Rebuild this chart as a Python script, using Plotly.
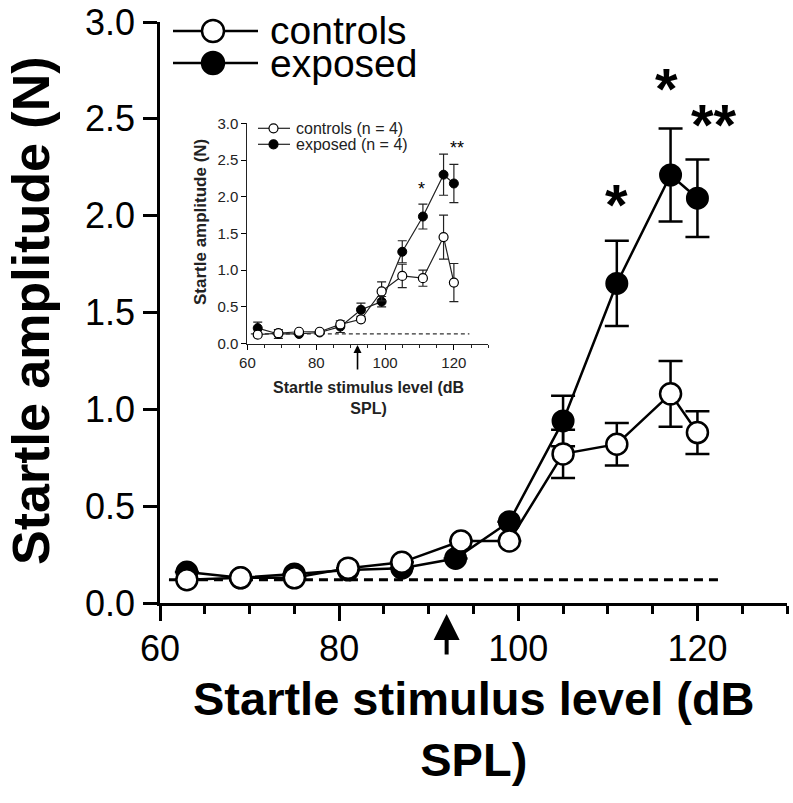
import plotly.graph_objects as go

# ---------------- data ----------------
levels = [63, 69, 75, 81, 87, 93, 99, 105, 111, 117, 120]
ctrl_levels_main = [63, 69, 75, 81, 87, 93.6, 99, 105, 111, 117, 120]

ctrl_main = [0.12, 0.13, 0.13, 0.18, 0.21, 0.32, 0.32, 0.77, 0.82, 1.08, 0.88]
ctrl_main_se = [None, None, None, None, None, None, None, 0.125, 0.11, 0.17, 0.11]
exp_main = [0.16, 0.13, 0.15, 0.17, 0.18, 0.23, 0.42, 0.94, 1.65, 2.21, 2.09]
exp_main_se = [None, None, None, None, None, None, None, 0.13, 0.22, 0.24, 0.20]

ctrl_inset = [0.12, 0.14, 0.16, 0.16, 0.26, 0.33, 0.71, 0.92, 0.89, 1.45, 0.83]
ctrl_inset_se = [None, None, None, None, None, None, 0.13, 0.16, 0.11, 0.30, 0.26]
exp_inset = [0.21, 0.13, 0.13, 0.15, 0.23, 0.46, 0.57, 1.25, 1.73, 2.30, 2.18]
exp_inset_se = [0.08, 0.06, None, None, 0.08, 0.09, 0.07, 0.15, 0.17, 0.28, 0.26]

baseline_main = 0.12
baseline_inset = 0.13
baseline_span_main = [61, 122.5]
baseline_span_inset = [61, 124.5]
arrow_level = 92

sig_main = [(111, 2.10, "*"), (116.6, 2.70, "*"), (121.8, 2.51, "**")]
sig_inset = [(110.7, 2.16, "*"), (120.8, 2.72, "**")]

x_ticks = [60, 80, 100, 120]
y_ticks = [0.0, 0.5, 1.0, 1.5, 2.0, 2.5, 3.0]

FONT = "Liberation Sans, Arial, Helvetica, sans-serif"

fig = go.Figure()

# ---------------- main panel ----------------
fig.add_trace(go.Scatter(
    x=baseline_span_main, y=[baseline_main] * 2, mode="lines",
    line=dict(color="black", width=3, dash="9px,6px"),
    xaxis="x", yaxis="y", showlegend=False, hoverinfo="skip"))

fig.add_trace(go.Scatter(
    x=levels, y=exp_main, mode="lines+markers", name="exposed",
    line=dict(color="black", width=2.5),
    marker=dict(symbol="circle", size=21, color="black",
                line=dict(color="black", width=2)),
    error_y=dict(type="data", array=exp_main_se, visible=True,
                 color="black", thickness=2.5, width=12),
    xaxis="x", yaxis="y", showlegend=False))

fig.add_trace(go.Scatter(
    x=ctrl_levels_main, y=ctrl_main, mode="lines+markers", name="controls",
    line=dict(color="black", width=2.5),
    marker=dict(symbol="circle", size=21, color="white",
                line=dict(color="black", width=2.5)),
    error_y=dict(type="data", array=ctrl_main_se, visible=True,
                 color="black", thickness=2.5, width=12),
    xaxis="x", yaxis="y", showlegend=False))

# ---------------- inset panel ----------------
fig.add_trace(go.Scatter(
    x=baseline_span_inset, y=[baseline_inset] * 2, mode="lines",
    line=dict(color="#333333", width=1.2, dash="4px,3px"),
    xaxis="x2", yaxis="y2", showlegend=False, hoverinfo="skip"))

fig.add_trace(go.Scatter(
    x=levels, y=exp_inset, mode="lines+markers", name="exposed (n = 4)",
    line=dict(color="#222222", width=1.2),
    marker=dict(symbol="circle", size=9, color="black",
                line=dict(color="black", width=1)),
    error_y=dict(type="data", array=exp_inset_se, visible=True,
                 color="#222222", thickness=1.2, width=4.5),
    xaxis="x2", yaxis="y2", showlegend=False))

fig.add_trace(go.Scatter(
    x=levels, y=ctrl_inset, mode="lines+markers", name="controls (n = 4)",
    line=dict(color="#222222", width=1.2),
    marker=dict(symbol="circle", size=9, color="white",
                line=dict(color="black", width=1.2)),
    error_y=dict(type="data", array=ctrl_inset_se, visible=True,
                 color="#222222", thickness=1.2, width=4.5),
    xaxis="x2", yaxis="y2", showlegend=False))

# ---------------- layout ----------------
W, H = 793, 803
L, R, T, B = 160, 6, 22, 200
PW, PH = W - L - R, H - T - B


def px(xpix):
    return (xpix - L) / PW


def py(ypix):
    return (H - B - ypix) / PH


axis_common = dict(showgrid=False, zeroline=False, showline=True,
                   automargin=False,
                   linecolor="black", ticks="outside", tickcolor="black")

fig.update_layout(
    width=W, height=H,
    margin=dict(l=L, r=R, t=T, b=B, pad=0, autoexpand=False),
    paper_bgcolor="white", plot_bgcolor="white",
    font=dict(family=FONT, color="black"),
    showlegend=False,
    xaxis=dict(axis_common, range=[60, 130], tickvals=x_ticks,
               linewidth=2.5, tickwidth=2.5, ticklen=15,
               tickfont=dict(size=36), ticklabelstandoff=-3,
               minor=dict(dtick=5, tick0=60, ticks="outside", ticklen=8,
                          tickwidth=2.5, tickcolor="black", showgrid=False),
               domain=[0, 1], anchor="y"),
    yaxis=dict(axis_common, range=[0, 3], tickvals=y_ticks, tickformat=".1f",
               linewidth=2.5, tickwidth=2.5, ticklen=14, ticklabelstandoff=1,
               tickfont=dict(size=36), domain=[0, 1], anchor="x"),
    xaxis2=dict(axis_common, range=[60, 130], tickvals=x_ticks,
                linewidth=1, tickwidth=1, ticklen=5, linecolor="#222222",
                tickfont=dict(size=15, color="#222222"),
                minor=dict(dtick=5, tick0=60, ticks="outside", ticklen=3,
                           tickwidth=1, tickcolor="#222222", showgrid=False),
                domain=[px(247.4), px(488.3)], anchor="y2"),
    yaxis2=dict(axis_common, range=[0, 3], tickvals=y_ticks, tickformat=".1f",
                linewidth=1, tickwidth=1, ticklen=5, linecolor="#222222",
                tickfont=dict(size=15, color="#222222"),
                domain=[py(343.5), py(123.3)], anchor="x2"),
)

annotations = []
# axis titles (main)
annotations.append(dict(text="<b>Startle amplitude (N)</b>", textangle=-90,
                        xref="paper", yref="paper", x=px(31), y=py(311),
                        xanchor="center", yanchor="middle", showarrow=False,
                        font=dict(size=52)))
annotations.append(dict(text="<b>Startle stimulus level (dB<br>SPL)</b>",
                        xref="paper", yref="paper", x=0.5, y=py(670),
                        xanchor="center", yanchor="top", showarrow=False,
                        font=dict(size=47)))
# axis titles (inset)
annotations.append(dict(text="<b>Startle amplitude (N)</b>", textangle=-90,
                        xref="paper", yref="paper", x=px(200), y=py(222),
                        xanchor="center", yanchor="middle", showarrow=False,
                        font=dict(size=17, color="#222222")))
annotations.append(dict(text="<b>Startle stimulus level (dB<br>SPL)</b>",
                        xref="paper", yref="paper", x=px(368), y=py(377),
                        xanchor="center", yanchor="top", showarrow=False,
                        font=dict(size=16, color="#222222")))
# arrows
annotations.append(dict(text="", x=arrow_level, xref="x", y=py(614), yref="paper",
                        ax=0, ay=42, showarrow=True, arrowhead=2, arrowsize=1.3,
                        arrowwidth=4, arrowcolor="black"))
annotations.append(dict(text="", x=arrow_level, xref="x2", y=py(345), yref="paper",
                        ax=0, ay=26, showarrow=True, arrowhead=2, arrowsize=1,
                        arrowwidth=1.6, arrowcolor="black"))
# significance markers
for xv, yv, s in sig_main:
    annotations.append(dict(text="<b>%s</b>" % s, x=xv, y=yv, xref="x", yref="y",
                            xanchor="center", yanchor="middle", yshift=-8,
                            showarrow=False, font=dict(size=58)))
for xv, yv, s in sig_inset:
    annotations.append(dict(text=s, x=xv, y=yv, xref="x2", yref="y2",
                            xanchor="center", yanchor="middle", yshift=-4,
                            showarrow=False, font=dict(size=18)))

# legends (drawn manually so the line segments match the original length)
shapes = []
legend_main = [("controls", "white", 31), ("exposed", "black", 63)]
for label, fill, ypix in legend_main:
    shapes.append(dict(type="line", xref="paper", yref="paper",
                       x0=px(173), x1=px(258), y0=py(ypix), y1=py(ypix),
                       line=dict(color="black", width=2.5)))
    shapes.append(dict(type="circle", xref="paper", yref="paper",
                       xsizemode="pixel", ysizemode="pixel",
                       xanchor=px(213), yanchor=py(ypix),
                       x0=-11, x1=11, y0=-11, y1=11, fillcolor=fill,
                       line=dict(color="black", width=2.5), layer="above"))
    annotations.append(dict(text=label, xref="paper", yref="paper",
                            x=px(268), y=py(ypix), xanchor="left", yanchor="middle",
                            showarrow=False, font=dict(size=39)))

legend_inset = [("controls (n = 4)", "white", 128.3), ("exposed (n = 4)", "black", 144.3)]
for label, fill, ypix in legend_inset:
    shapes.append(dict(type="line", xref="paper", yref="paper",
                       x0=px(258), x1=px(290), y0=py(ypix), y1=py(ypix),
                       line=dict(color="#222222", width=1.2)))
    shapes.append(dict(type="circle", xref="paper", yref="paper",
                       xsizemode="pixel", ysizemode="pixel",
                       xanchor=px(273.5), yanchor=py(ypix),
                       x0=-4.5, x1=4.5, y0=-4.5, y1=4.5, fillcolor=fill,
                       line=dict(color="black", width=1.2), layer="above"))
    annotations.append(dict(text=label, xref="paper", yref="paper",
                            x=px(294), y=py(ypix), xanchor="left", yanchor="middle",
                            showarrow=False, font=dict(size=16, color="#222222")))

fig.update_layout(annotations=annotations, shapes=shapes)

# the page body has a default 8px margin; remove it so the figure fills the window
fig.write_html("out.html", config={"displayModeBar": False},
               post_script="document.body.style.margin='0px';document.body.style.overflow='hidden';")
